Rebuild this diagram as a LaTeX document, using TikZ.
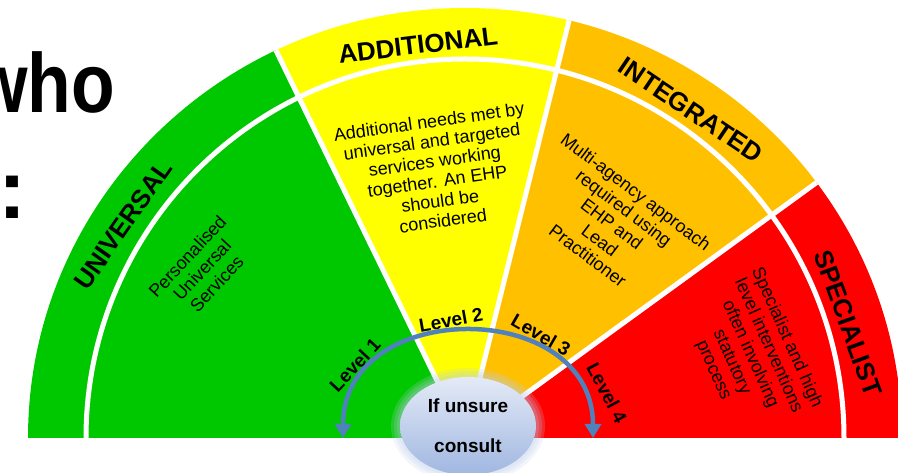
\documentclass[tikz,border=0pt]{standalone}
\usepackage{fontspec}
\setmainfont{Liberation Sans}
\usepackage{tikz}
\usetikzlibrary{arrows.meta,shapes.geometric}

\definecolor{univ}{RGB}{0,200,0}
\definecolor{addi}{RGB}{255,255,0}
\definecolor{integ}{RGB}{255,192,0}
\definecolor{spec}{RGB}{255,0,0}
\definecolor{arrowblue}{RGB}{79,129,189}
\definecolor{bubtop}{RGB}{228,234,246}
\definecolor{bubbot}{RGB}{160,183,225}

\begin{document}
\begin{tikzpicture}[x=1pt, y=1pt, >={Triangle[length=14pt,width=16pt]},
    gap/.style={draw=white, line width=5pt},
    ring/.style={font=\fontsize{26}{28}\selectfont\bfseries},
    inner/.style={font=\fontsize{18}{20}\selectfont, align=center},
    lvl/.style={font=\fontsize{19}{21}\selectfont\bfseries},
    big/.style={anchor=base west, inner sep=0pt, font=\fontsize{84}{90}\selectfont\bfseries},
    levelarrow/.style={<->, draw=arrowblue, line width=4.5pt},
    halo/.style={fill=bubbot!70!white, opacity=0.2},
    bubble/.style={ellipse, minimum width=136pt, minimum height=98pt, inner sep=0pt,
        top color=bubtop, bottom color=bubbot, align=center,
        font=\fontsize{19}{40}\selectfont\bfseries}]
    \useasboundingbox (0,0) rectangle (898,473);
    \coordinate (C) at (465,35);

    % Heading behind the fan
    \node [big, xscale=0.85] (who) at (-28,360) {who};
    \node [big] (colon) at (-2,254) {:};

    % Sectors {universal, additional, integrated, specialist}
    \begin{scope}
        \clip (C) ++(-437,0) arc[start angle=180, end angle=0, x radius=437, y radius=430] -- cycle;
        \foreach \from/\to/\col in {180/116/univ, 116/76/addi, 76/36/integ, 36/0/spec}
            \fill [\col] (C) -- +(\from:600) arc[start angle=\from, end angle=\to, radius=600] -- cycle;
        \foreach \ang in {116, 76, 36}
            \draw [gap] (C) -- +(\ang:600);
        \draw [gap] (C) ++(-379,0) arc[start angle=180, end angle=0, radius=379];
    \end{scope}

    % Ring titles
    \node [ring, rotate=55]  (universal)  at (123,248) {UNIVERSAL};
    \node [ring, rotate=7]   (additional) at (418,428) {ADDITIONAL};
    \node [ring, rotate=-34] (integrated) at (691,363) {INTEGRATED};
    \node [ring, rotate=-70] (specialist) at (848,150) {SPECIALIST};

    % Descriptions
    \node [inner, rotate=47]  (univtext)  at (202,203) {Personalised\\Universal\\Services};
    \node [inner, rotate=8]   (additext)  at (436,302) {Additional needs met by\\universal and targeted\\services working\\together. An EHP\\should be\\considered};
    \node [inner, rotate=-37] (integtext) at (612,249) {Multi-agency approach\\required using\\EHP and\\Lead\\Practitioner};
    \node [inner, rotate=-66] (spectext)  at (750,119) {Specialist and high\\level interventions\\often involving\\statutory\\process};

    % Levels
    \node [lvl, rotate=47]  (level1) at (355,108) {Level 1};
    \node [lvl, rotate=10]  (level2) at (451,153) {Level 2};
    \node [lvl, rotate=-30] (level3) at (541,138) {Level 3};
    \node [lvl, rotate=-62] (level4) at (607,80)  {Level 4};

    % Arrow and bubble
    \coordinate (arrL) at (343,35);
    \coordinate (arrR) at (593,35);
    \draw [levelarrow] (arrL) .. controls (343,176) and (593,176) .. (arrR);
    \foreach \s in {3,6,9}
        \fill [halo] (468,47) ellipse [x radius=68+\s, y radius=49+\s];
    \node [bubble] (consult) at (468,47) {If unsure\\consult};
\end{tikzpicture}
\end{document}
